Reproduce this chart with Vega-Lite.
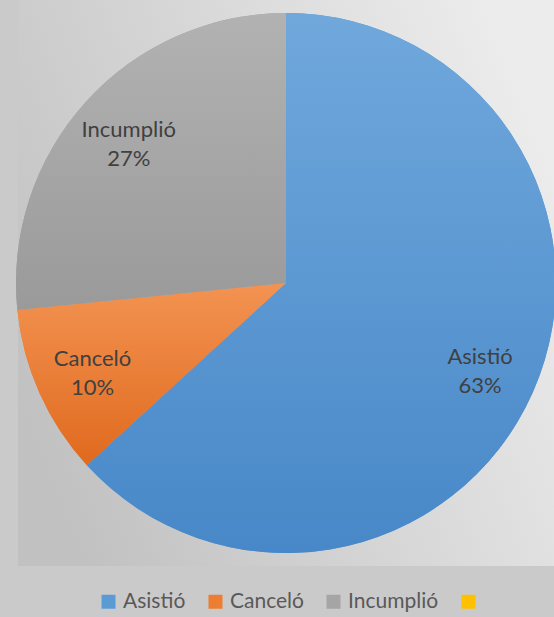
{
  "$schema": "https://vega.github.io/schema/vega-lite/v6.json",
  "autosize": "none",
  "width": 536,
  "height": 566,
  "padding": {"left": 18, "top": 0, "right": 0, "bottom": 51},
  "background": "#cacaca",
  "view": {
    "stroke": null,
    "fill": {
      "gradient": "linear",
      "x1": 0, "y1": 0.72, "x2": 1, "y2": 0.28,
      "stops": [
        {"offset": 0, "color": "#c1c1c1"},
        {"offset": 1, "color": "#ececec"}
      ]
    }
  },
  "data": {
    "values": [
      {"category": "Asistió", "value": 63.2, "label": "Asistió\n63%"},
      {"category": "Canceló", "value": 10.2, "label": "Canceló\n10%"},
      {"category": "Incumplió", "value": 26.6, "label": "Incumplió\n27%"}
    ]
  },
  "encoding": {
    "theta": {"field": "value", "type": "quantitative", "stack": true},
    "order": {"field": "category", "type": "nominal"}
  },
  "layer": [
    {
      "mark": {"type": "arc", "outerRadius": 270},
      "encoding": {
        "color": {
          "field": "category",
          "type": "nominal",
          "scale": {
            "domain": ["Asistió", "Canceló", "Incumplió", " "],
            "range": ["#5b9bd5", "#ed7d31", "#a5a5a5", "#ffc000"]
          },
          "legend": {
            "title": null,
            "orient": "none",
            "legendX": 80,
            "legendY": 591,
            "padding": 0,
            "direction": "horizontal",
            "symbolType": "square",
            "symbolSize": 196,
            "symbolStrokeWidth": 0,
            "symbolOpacity": 1,
            "labelFont": "Lato",
            "labelFontSize": 21,
            "labelColor": "#595959",
            "columnPadding": 19,
            "labelOffset": 4
          }
        }
      }
    },
    {
      "mark": {"type": "arc", "outerRadius": 270},
      "encoding": {
        "fill": {
          "condition": [
            {"test": "datum.category === 'Asistió'", "value": {"gradient": "linear", "x1": 0, "y1": 0, "x2": 0, "y2": 1, "stops": [{"offset": 0, "color": "#70a8dc"}, {"offset": 1, "color": "#4888c8"}]}},
            {"test": "datum.category === 'Canceló'", "value": {"gradient": "linear", "x1": 0, "y1": 0, "x2": 0, "y2": 1, "stops": [{"offset": 0, "color": "#f39352"}, {"offset": 1, "color": "#e06a1e"}]}}
          ],
          "value": {"gradient": "linear", "x1": 0, "y1": 0, "x2": 0, "y2": 1, "stops": [{"offset": 0, "color": "#b2b2b2"}, {"offset": 1, "color": "#9a9a9a"}]}
        }
      }
    },
    {
      "mark": {"type": "text", "radius": 212, "font": "Lato", "fontSize": 22, "color": "#404040", "lineBreak": "\n", "lineHeight": 29, "baseline": "middle", "dy": -11},
      "encoding": {
        "text": {"field": "label", "type": "nominal"}
      }
    }
  ]
}
